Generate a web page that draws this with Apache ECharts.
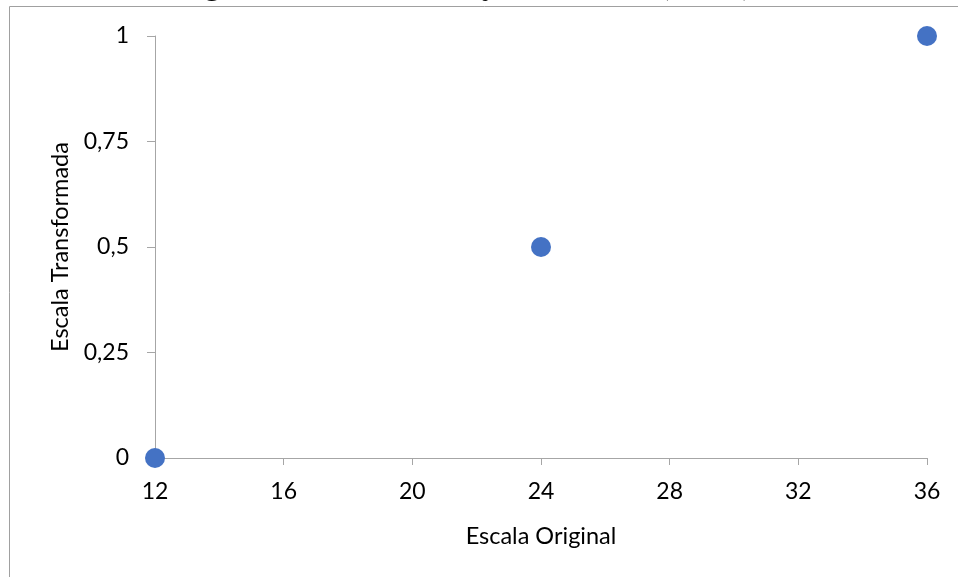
<!DOCTYPE html>
<html><head><meta charset="utf-8">
<script src="https://cdn.jsdelivr.net/npm/echarts@6/dist/echarts.min.js"></script>
<style>html,body{margin:0;padding:0;background:#fff}#c{width:958px;height:577px}</style>
</head><body><div id="c"></div>
<script>
const titleText = "Figura 1 – Transformação da escala (MRN)";
const xName = "Escala Original";
const yName = "Escala Transformada";
const xValues = [12, 24, 36];
const yValues = [0, 0.5, 1];

const chart = echarts.init(document.getElementById('c'), null, {renderer: 'canvas'});
const font = 'Lato, "Open Sans", sans-serif';
const axisGrey = '#A6A6A6';
chart.setOption({
  animation: false,
  backgroundColor: '#fff',
  grid: {left: 155, right: 31, top: 36, bottom: 119, containLabel: false},
  xAxis: {
    type: 'value', min: 12, max: 36, interval: 4,
    name: xName, nameLocation: 'middle', nameGap: 66,
    nameTextStyle: {fontFamily: font, fontSize: 23.5, color: '#000'},
    axisLine: {show: true, onZero: false, lineStyle: {color: axisGrey, width: 1}},
    axisTick: {show: true, length: 7, lineStyle: {color: axisGrey}},
    axisLabel: {fontFamily: font, fontSize: 23, color: '#000', margin: 22},
    splitLine: {show: false}
  },
  yAxis: {
    type: 'value', min: 0, max: 1, interval: 0.25,
    name: yName, nameLocation: 'middle', nameGap: 80, nameRotate: 90,
    nameTextStyle: {fontFamily: font, fontSize: 23.5, color: '#000'},
    axisLine: {show: true, lineStyle: {color: axisGrey, width: 1}},
    axisTick: {show: true, length: 8, lineStyle: {color: axisGrey}},
    axisLabel: {fontFamily: font, fontSize: 23, color: '#000', margin: 26,
      formatter: v => String(v).replace('.', ',')},
    splitLine: {show: false}
  },
  series: [{
    type: 'scatter',
    data: xValues.map((x, i) => [x, yValues[i]]),
    symbol: 'circle', symbolSize: 20, clip: false,
    itemStyle: {color: '#4472C4', opacity: 1}
  }],
  graphic: [
    {type: 'rect', shape: {x: 9.5, y: 6.5, width: 1000, height: 700},
     style: {fill: null, stroke: '#A0A0A0', lineWidth: 1}, z: -1},
    {type: 'text', x: 465, y: -29.5,
     style: {text: titleText, font: 'bold 31px "Liberation Serif", serif', fill: '#000', textAlign: 'center', textVerticalAlign: 'top'}}
  ]
});
</script></body></html>
